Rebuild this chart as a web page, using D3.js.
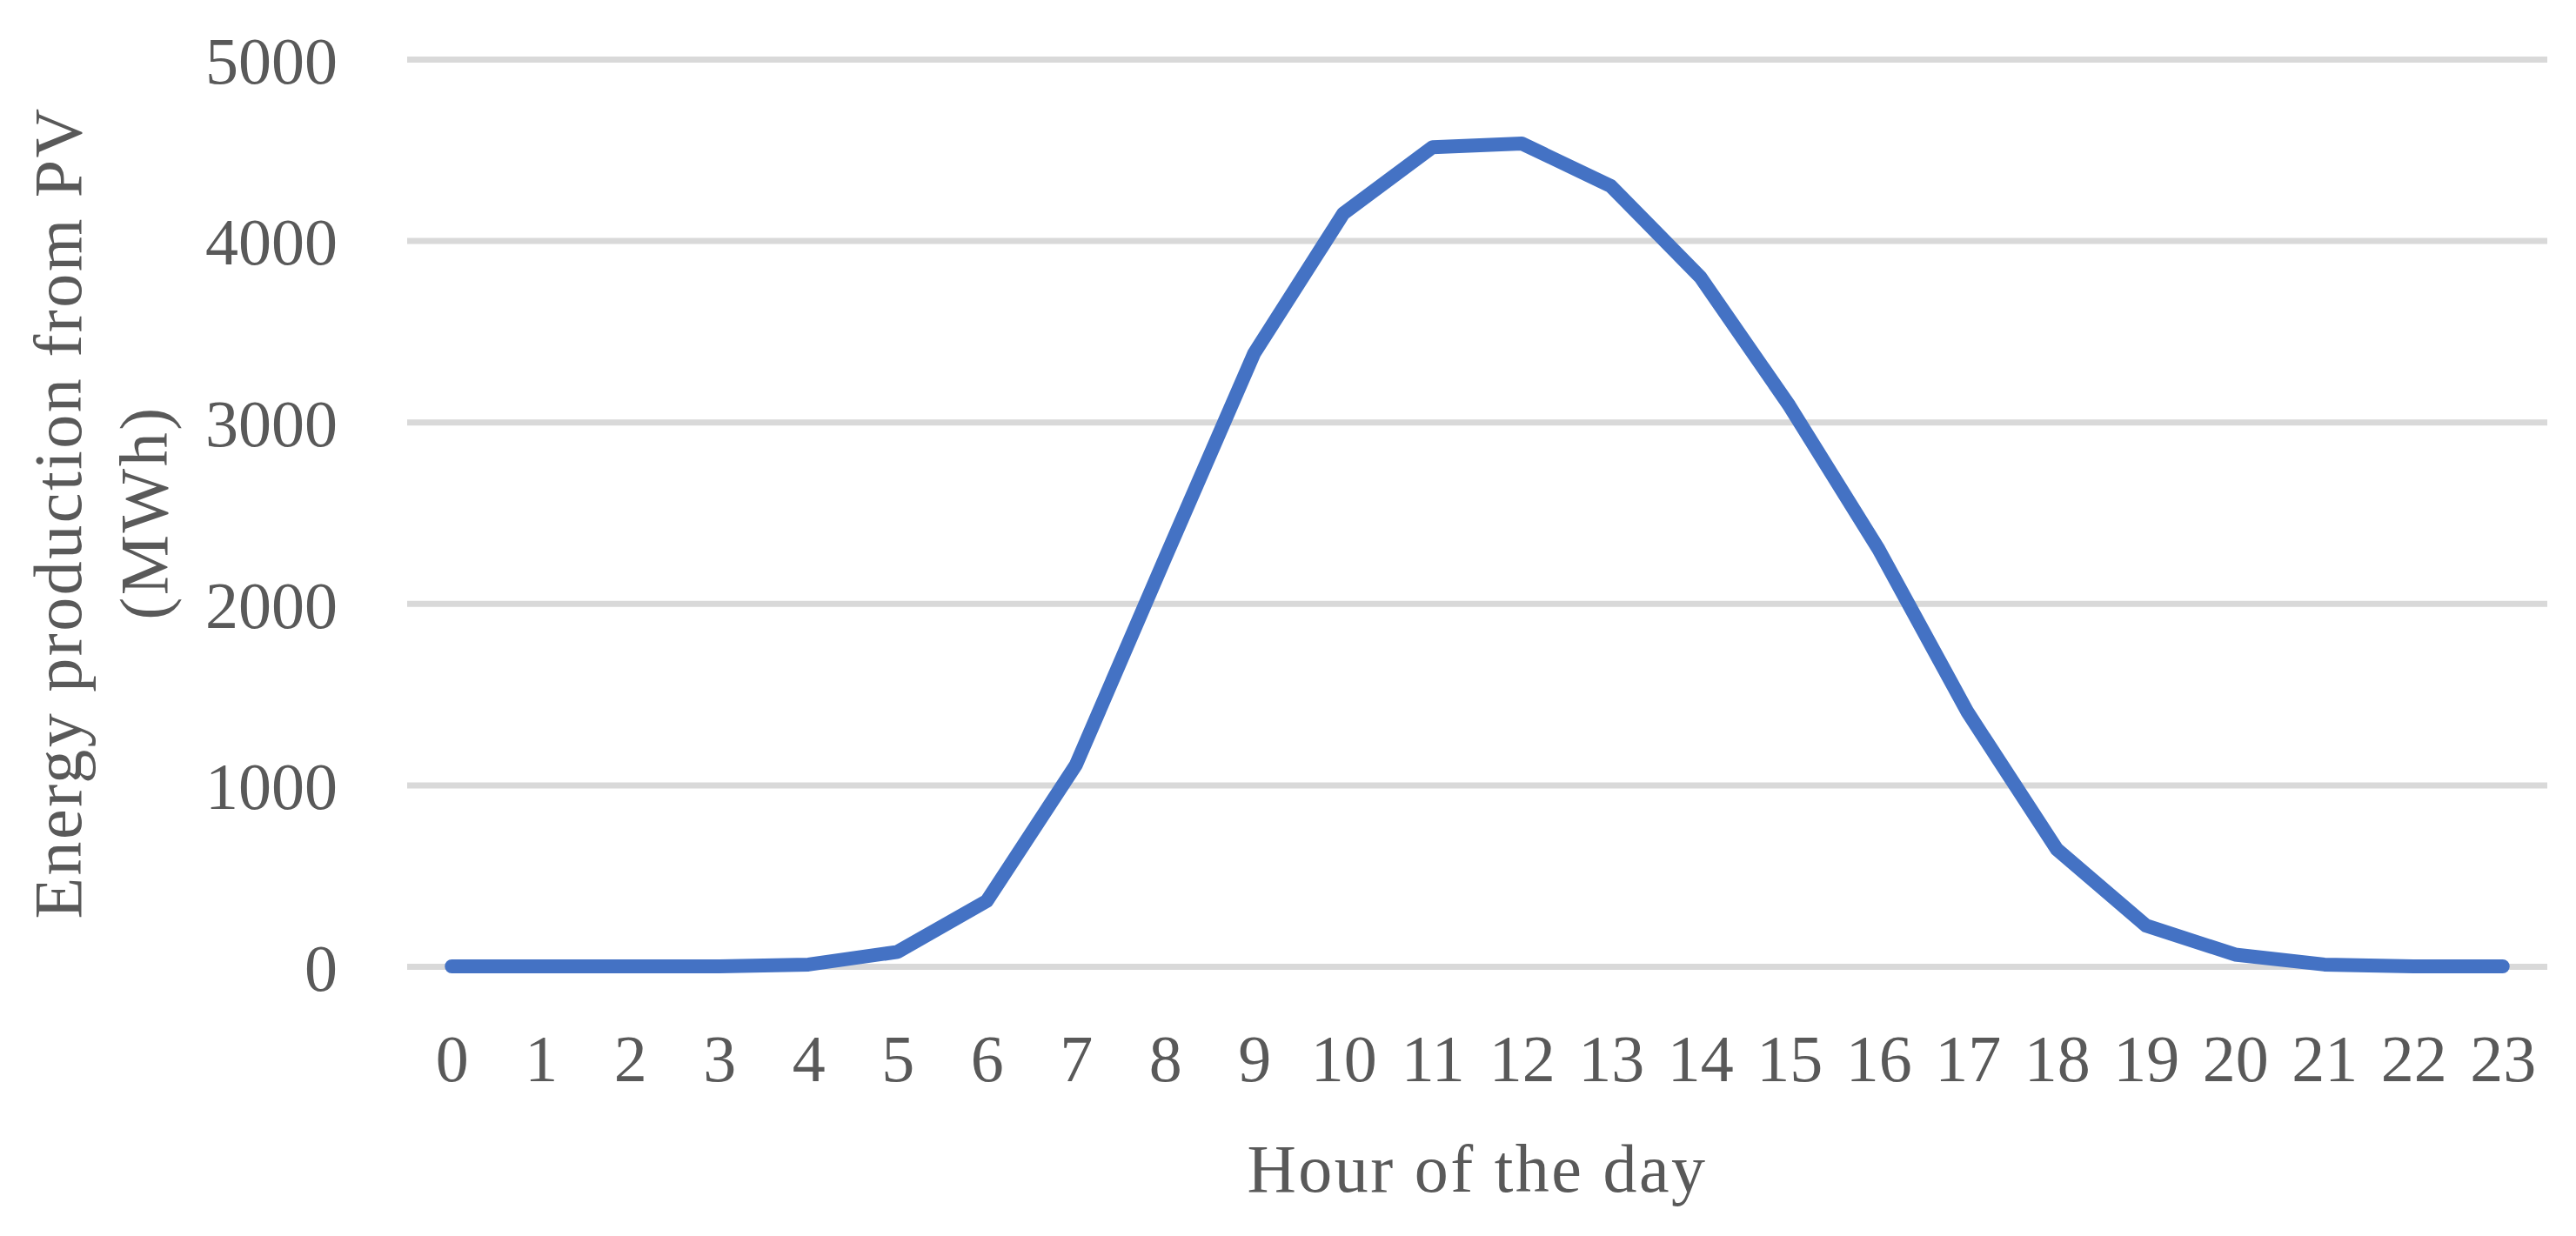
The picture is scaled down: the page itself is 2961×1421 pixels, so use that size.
<!DOCTYPE html>
<html>
<head>
<meta charset="utf-8">
<script src="https://cdn.jsdelivr.net/npm/d3@7"></script>
<style>
  body { margin: 0; background: #fff; }
  text { font-family: "Palatino Linotype", "Book Antiqua", Palatino, "Liberation Serif", serif; fill: #595959; }
</style>
</head>
<body>
<div id="chart"></div>
<script>
// Data
const hours = d3.range(0, 24);
const energyMWh = [0, 0, 0, 0, 10, 80, 360, 1110, 2250, 3380, 4150, 4515,
  4535, 4300, 3800, 3090, 2300, 1400, 645, 225, 65, 10, 0, 0];
const yTicks = [0, 1000, 2000, 3000, 4000, 5000];
const xTitle = "Hour of the day";
const yTitle = ["Energy production from PV", "(MWh)"];

// Dimensions
const width = 2961;
const height = 1421;
const margin = { top: 68, right: 33, bottom: 310, left: 468 };
const plotW = width - margin.left - margin.right;
const plotH = height - margin.top - margin.bottom;
const tickSize = 76;
const titleSize = 78;

const svg = d3
  .select("#chart")
  .append("svg")
  .attr("width", width)
  .attr("height", height);

const g = svg
  .append("g")
  .attr("transform", `translate(${margin.left},${margin.top})`);

// Scales
const x = d3.scalePoint().domain(hours).range([0, plotW]).padding(0.5);
const y = d3.scaleLinear().domain([0, 5000]).range([plotH, 0]);

// Y axis with gridlines
const yAxis = g
  .append("g")
  .call(
    d3.axisLeft(y)
      .tickValues(yTicks)
      .tickFormat(d3.format("d"))
      .tickSize(-plotW)
      .tickPadding(80)
  );
yAxis.select(".domain").remove();
yAxis.selectAll("line").attr("stroke", "#d9d9d9").attr("stroke-width", 7);
yAxis.selectAll("text").attr("font-size", tickSize).attr("dy", "0.36em");

// X axis (labels only)
const xAxis = g
  .append("g")
  .attr("transform", `translate(0,${plotH})`)
  .call(d3.axisBottom(x).tickSize(0));
xAxis.select(".domain").remove();
xAxis
  .selectAll("text")
  .attr("font-size", tickSize)
  .attr("y", 132)
  .attr("dy", null);

svg.selectAll(".tick text").attr("fill", "#595959");
svg.selectAll("g[font-family]").attr("font-family", null);

// Line
const line = d3
  .line()
  .x((d, i) => x(hours[i]))
  .y((d) => y(d));

g.append("path")
  .datum(energyMWh)
  .attr("fill", "none")
  .attr("stroke", "#4472c4")
  .attr("stroke-width", 16)
  .attr("stroke-linecap", "round")
  .attr("stroke-linejoin", "round")
  .attr("d", line);

// Axis titles
g.append("text")
  .attr("x", plotW / 2)
  .attr("y", plotH + 259)
  .attr("text-anchor", "middle")
  .attr("font-size", titleSize)
  .attr("letter-spacing", 2.5)
  .text(xTitle);

const yt = svg
  .append("text")
  .attr("transform", `translate(93,${margin.top + plotH / 2}) rotate(-90)`)
  .attr("text-anchor", "middle")
  .attr("font-size", titleSize)
  .attr("letter-spacing", 2.5);
yt.append("tspan").attr("x", 0).attr("y", 0).text(yTitle[0]);
yt.append("tspan").attr("x", 0).attr("y", 99).text(yTitle[1]);
</script>
</body>
</html>
